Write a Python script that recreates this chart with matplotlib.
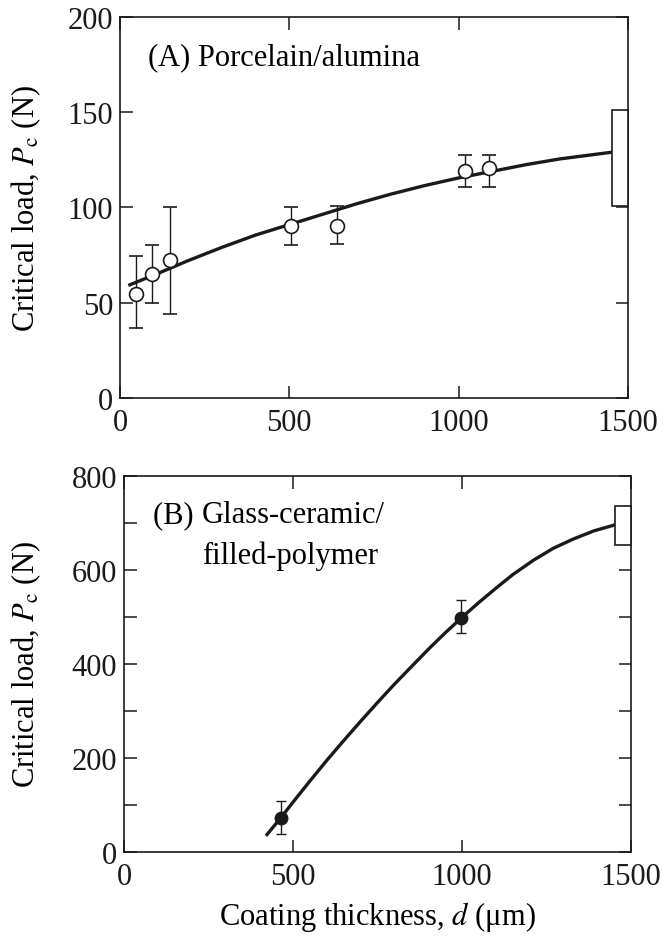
import numpy as np
import matplotlib
matplotlib.use("Agg")
import matplotlib.pyplot as plt
from matplotlib.patches import Rectangle

plt.rcParams["font.family"] = ["Liberation Serif", "DejaVu Serif"]
plt.rcParams["mathtext.fontset"] = "stix"

# (A) Porcelain/alumina - measured points with error bars
a_x = np.array([47, 94, 147, 506, 640, 1019, 1091])
a_y = np.array([54.6, 65, 72.3, 90.4, 90.4, 119.3, 120.5])
a_lo = np.array([36.7, 50, 44.3, 80.3, 80.6, 110.8, 110.8])
a_hi = np.array([74.5, 80.1, 100, 100, 101, 127.3, 127.3])

# (A) fitted curve
a_cx = np.array([29, 100, 147, 200, 300, 400, 500, 600, 700, 800, 900,
                 1000, 1100, 1200, 1300, 1453])
a_cy = np.array([59.4, 64.5, 68, 72, 79, 85.5, 91, 96.5, 102, 107, 111.5,
                 115.5, 119, 122.5, 125.5, 129])

# (A) bulk value box
a_box_x = (1453, 1500)
a_box_y = (101, 151)

# (B) Glass-ceramic/filled-polymer
b_x = np.array([463, 998])
b_y = np.array([72, 498])
b_lo = np.array([38, 465])
b_hi = np.array([108, 536])

b_cx = np.array([423, 463, 500, 550, 600, 650, 700, 750, 800, 850, 900, 950,
                 998, 1050, 1100, 1150, 1212, 1270, 1330, 1390, 1453])
b_cy = np.array([37, 72, 106, 151, 195, 237, 278, 318, 357, 394, 431, 466,
                 498, 531, 561, 590, 621, 646, 666, 683, 696])

b_box_x = (1453, 1500)
b_box_y = (652, 736)

FS = 22
INK = "#1a1a1a"

fig = plt.figure(figsize=(6.63, 9.45), dpi=100)
axA = fig.add_axes([0.181, 0.5778, 0.766, 0.4032])
axB = fig.add_axes([0.187, 0.0974, 0.765, 0.398])


def style(ax):
    for s in ax.spines.values():
        s.set_linewidth(1.2)
        s.set_color(INK)
    ax.tick_params(which="both", direction="in", top=True, right=True,
                   width=1.1, length=9, labelsize=FS, colors=INK)
    ax.tick_params(axis="x", pad=7)
    ax.tick_params(axis="y", pad=5)
    ax.set_xlim(0, 1500)
    ax.set_xticks([0, 500, 1000, 1500])


# ---- panel A ----
style(axA)
axA.set_ylim(0, 200)
axA.set_yticks([0, 50, 100, 150, 200])
axA.plot(a_cx, a_cy, color=INK, lw=2.4, zorder=2, solid_joinstyle="round")
axA.errorbar(a_x, a_y, yerr=[a_y - a_lo, a_hi - a_y], fmt="o", ms=10,
             mfc="white", mec=INK, mew=1.2, ecolor=INK,
             elinewidth=1.0, capsize=5, capthick=1.0, zorder=3)
axA.add_patch(Rectangle((a_box_x[0], a_box_y[0]), a_box_x[1] - a_box_x[0],
                        a_box_y[1] - a_box_y[0], fc="white", ec=INK,
                        lw=1.2, zorder=4, clip_on=False))
axA.text(0.055, 0.895, "(A) Porcelain/alumina", transform=axA.transAxes,
         fontsize=FS, va="center", ha="left")
axA.set_ylabel(r"Critical load, $P_{\mathrm{c}}$ (N)", fontsize=FS)
axA.yaxis.set_label_coords(-0.152, 0.5)

# ---- panel B ----
style(axB)
axB.set_ylim(0, 800)
axB.set_yticks([0, 200, 400, 600, 800])
axB.set_yticks([100, 300, 500, 700], minor=True)
axB.plot(b_cx, b_cy, color=INK, lw=2.4, zorder=2, solid_joinstyle="round")
axB.errorbar(b_x, b_y, yerr=[b_y - b_lo, b_hi - b_y], fmt="o", ms=9,
             mfc=INK, mec=INK, ecolor=INK,
             elinewidth=1.0, capsize=3.5, capthick=1.0, zorder=3)
axB.add_patch(Rectangle((b_box_x[0], b_box_y[0]), b_box_x[1] - b_box_x[0],
                        b_box_y[1] - b_box_y[0], fc="white", ec=INK,
                        lw=1.2, zorder=4, clip_on=False))
t1 = axB.text(0.058, 0.896, "(B) ", transform=axB.transAxes,
              fontsize=FS, va="center", ha="left")
fig.canvas.draw()
bb = t1.get_window_extent().transformed(axB.transAxes.inverted())
axB.text(bb.x1, 0.896, "Glass-ceramic/", transform=axB.transAxes,
         fontsize=FS, va="center", ha="left")
axB.text(bb.x1, 0.79, "filled-polymer", transform=axB.transAxes,
         fontsize=FS, va="center", ha="left")
axB.set_ylabel(r"Critical load, $P_{\mathrm{c}}$ (N)", fontsize=FS)
axB.yaxis.set_label_coords(-0.16, 0.5)
axB.set_xlabel("Coating thickness, $d$ (\u03bcm)", fontsize=FS, labelpad=6)

fig.savefig("out.png", dpi=100)
